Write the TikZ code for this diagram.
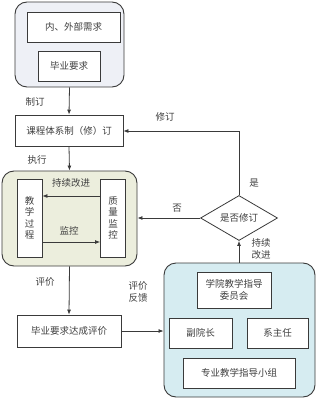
\documentclass[tikz,border=0pt]{standalone}
\usepackage{fontspec}
\setmainfont{Noto Sans CJK SC}
\usetikzlibrary{arrows.meta,shapes.geometric}
\definecolor{topfill}{HTML}{EEF0F6}
\definecolor{greenfill}{HTML}{ECEEDD}
\definecolor{bluefill}{HTML}{D6ECF1}
\definecolor{linec}{HTML}{3A3A3A}
\definecolor{textc}{HTML}{404040}
\begin{document}
\begin{tikzpicture}[x=1pt,y=-1pt,
  font=\fontsize{9.5}{11.5}\selectfont, text=textc,
  group/.style={draw=linec, line width=0.9pt, rounded corners=12pt, minimum width=#1},
  box/.style={draw=linec, line width=0.8pt, fill=white, align=center, inner sep=0pt},
  vbox/.style={box, minimum width=25pt, minimum height=78pt, text width=12pt},
  arr/.style={draw=linec, line width=0.8pt, -{Latex[length=5pt,width=4pt]}},
  lbl/.style={align=center, inner sep=1pt}]
\useasboundingbox (0,0) rectangle (317,401);
% top group
\node[group=109pt, fill=topfill, minimum height=85pt] (topg) at (69.5,44.5) {};
\node[box, minimum width=93pt, minimum height=30pt] (needs) at (73.5,27) {内、外部需求};
\node[box, minimum width=62pt, minimum height=30pt] (grad) at (69,66) {毕业要求};
% course system
\node[box, minimum width=108pt, minimum height=31pt] (course) at (69,130.5) {课程体系制（修）订};
% green group
\node[group=135pt, fill=greenfill, minimum height=95pt] (greeng) at (69.5,218.5) {};
\node[vbox] (teach) at (29.5,218) {教\\学\\过\\程};
\node[vbox] (quality) at (113,218) {质\\量\\监\\控};
% diamond
\node[diamond, draw=linec, line width=0.8pt, fill=white, aspect=1.7, minimum width=77pt, minimum height=45pt, inner sep=0pt] (dec) at (239,218) {是否修订};
% grad evaluation
\node[box, minimum width=104pt, minimum height=32pt] (geval) at (69,331) {毕业要求达成评价};
% blue group
\node[group=151pt, fill=bluefill, minimum height=134pt] (blueg) at (239.5,330) {};
\node[box, minimum width=74pt, minimum height=36pt] (comm) at (234,290) {学院教学指导\\委员会};
\node[box, minimum width=63pt, minimum height=30pt] (vdean) at (200.5,333) {副院长};
\node[box, minimum width=61pt, minimum height=30pt] (dhead) at (277.5,333) {系主任};
\node[box, minimum width=112pt, minimum height=30pt] (mgroup) at (239,373) {专业教学指导小组};
% connectors
\draw[arr] (topg.south) -- (course.north);
\node[lbl] (l1) at (35,102) {制订};
\draw[arr] (course.south) -- (greeng.north);
\node[lbl] (l2) at (37,160) {执行};
\draw[arr] (quality.west |- 0,196) -- (teach.east |- 0,196);
\node[lbl] (l3) at (71,183) {持续改进};
\draw[arr] (teach.east |- 0,242) -- (quality.west |- 0,242);
\node[lbl] (l4) at (69,231) {监控};
\coordinate (corner) at (239,131);
\draw[arr] (dec.north) -- (corner) -- (course.east |- corner);
\node[lbl] (l5) at (165,117) {修订};
\node[lbl] (l6) at (254,183) {是};
\draw[arr] (dec.west) -- (greeng.east |- dec.west);
\node[lbl] (l7) at (177,208) {否};
\draw[arr] (blueg.north -| dec.south) -- (dec.south);
\node[lbl] (l8) at (261,249) {持续\\改进};
\draw[arr] (greeng.south) -- (geval.north);
\node[lbl] (l9) at (45,282) {评价};
\draw[arr] (geval.east) -- (blueg.west |- geval.east);
\node[lbl] (l10) at (138,292) {评价\\反馈};
\end{tikzpicture}
\end{document}
